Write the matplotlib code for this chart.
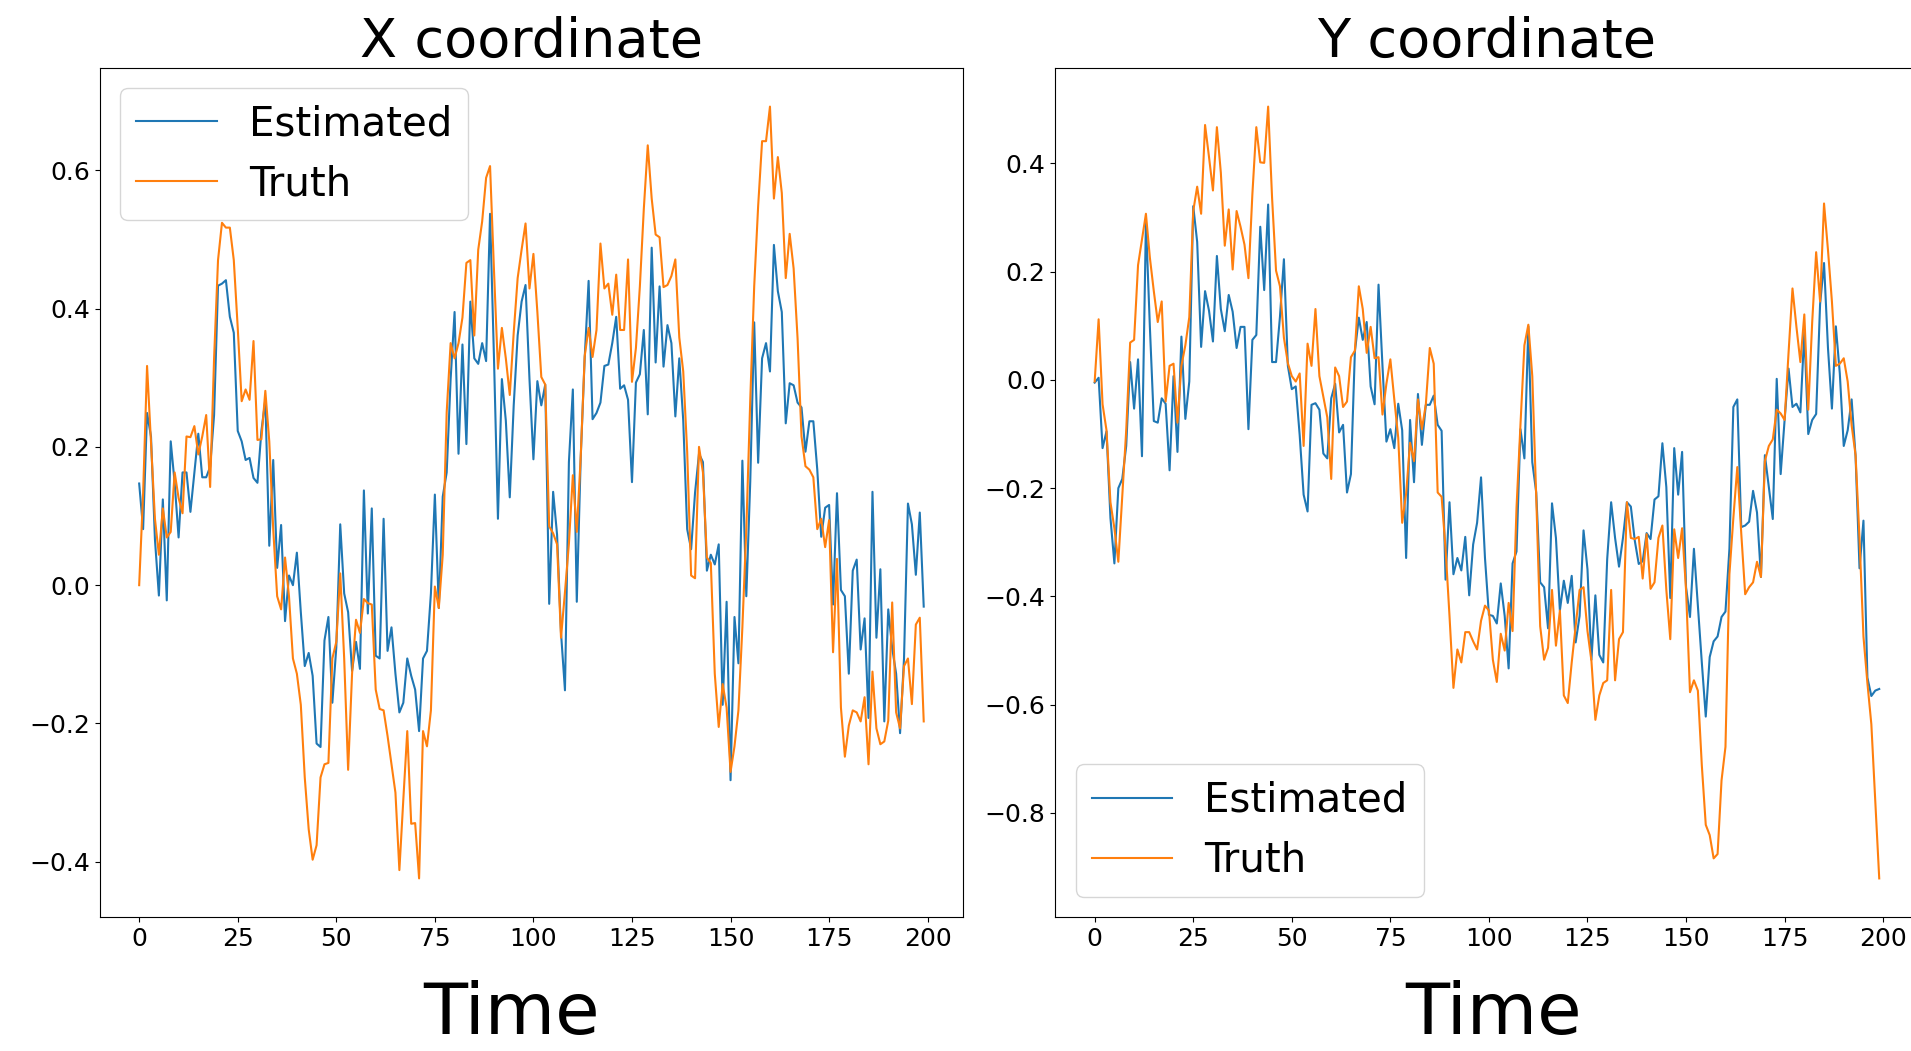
import numpy as np
import matplotlib
matplotlib.use('Agg')
import matplotlib.pyplot as plt

time = np.arange(200)

## X coordinate (left panel)
x_estimated = [
    0.147, 0.081, 0.249, 0.215, 0.066, -0.015, 0.124, -0.022, 0.208, 0.148,
    0.069, 0.163, 0.163, 0.106, 0.163, 0.219, 0.156, 0.156, 0.171, 0.246,
    0.433, 0.436, 0.441, 0.388, 0.365, 0.223, 0.208, 0.181, 0.184, 0.155,
    0.148, 0.223, 0.268, 0.057, 0.181, 0.025, 0.087, -0.052, 0.014, 0.0,
    0.047, -0.039, -0.117, -0.098, -0.131, -0.229, -0.234, -0.08, -0.046, -0.17,
    -0.09, 0.088, -0.012, -0.039, -0.124, -0.082, -0.121, 0.137, -0.041, 0.111,
    -0.102, -0.106, 0.096, -0.095, -0.061, -0.128, -0.184, -0.17, -0.106, -0.131,
    -0.151, -0.211, -0.106, -0.095, -0.012, 0.131, -0.033, 0.128, 0.163, 0.298,
    0.395, 0.19, 0.348, 0.204, 0.41, 0.328, 0.32, 0.35, 0.324, 0.537,
    0.328, 0.096, 0.298, 0.238, 0.127, 0.26, 0.361, 0.41, 0.434, 0.298,
    0.182, 0.295, 0.26, 0.29, -0.027, 0.135, 0.073, -0.069, -0.152, 0.178,
    0.283, -0.024, 0.185, 0.328, 0.44, 0.24, 0.249, 0.264, 0.317, 0.319,
    0.35, 0.388, 0.284, 0.289, 0.268, 0.149, 0.293, 0.305, 0.369, 0.247,
    0.488, 0.322, 0.432, 0.316, 0.376, 0.35, 0.244, 0.328, 0.238, 0.081,
    0.052, 0.134, 0.19, 0.178, 0.021, 0.044, 0.03, 0.059, -0.173, -0.024,
    -0.282, -0.046, -0.113, 0.18, -0.016, 0.15, 0.38, 0.177, 0.328, 0.35,
    0.309, 0.492, 0.425, 0.395, 0.234, 0.292, 0.289, 0.264, 0.257, 0.193,
    0.237, 0.237, 0.167, 0.070, 0.112, 0.116, -0.028, 0.133, -0.007, -0.016,
    -0.128, 0.021, 0.037, -0.093, -0.048, -0.192, 0.135, -0.076, 0.023, -0.197,
    -0.035, -0.091, -0.128, -0.214, -0.106, 0.118, 0.088, 0.015, 0.105, -0.031,
]
x_truth = [
    0.0, 0.133, 0.317, 0.208, 0.096, 0.044, 0.111, 0.069, 0.077, 0.163,
    0.126, 0.104, 0.215, 0.214, 0.230, 0.189, 0.215, 0.246, 0.142, 0.328,
    0.470, 0.524, 0.517, 0.517, 0.470, 0.372, 0.266, 0.283, 0.268, 0.353,
    0.210, 0.211, 0.281, 0.208, 0.081, -0.016, -0.035, 0.040, -0.016, -0.106,
    -0.128, -0.173, -0.278, -0.353, -0.397, -0.376, -0.278, -0.259, -0.257, -0.106,
    -0.082, 0.017, -0.106, -0.267, -0.128, -0.05, -0.069, -0.02, -0.026, -0.028,
    -0.151, -0.179, -0.181, -0.218, -0.259, -0.30, -0.412, -0.31, -0.211, -0.345,
    -0.344, -0.424, -0.211, -0.233, -0.181, -0.002, -0.033, 0.044, 0.25, 0.35,
    0.328, 0.35, 0.387, 0.466, 0.470, 0.361, 0.485, 0.526, 0.589, 0.606,
    0.455, 0.313, 0.372, 0.328, 0.275, 0.365, 0.444, 0.485, 0.523, 0.429,
    0.479, 0.395, 0.301, 0.290, 0.085, 0.075, 0.059, -0.076, -0.01, 0.06,
    0.159, 0.077, 0.186, 0.331, 0.372, 0.33, 0.369, 0.494, 0.429, 0.436,
    0.391, 0.449, 0.369, 0.369, 0.471, 0.294, 0.343, 0.432, 0.544, 0.636,
    0.559, 0.507, 0.503, 0.431, 0.434, 0.447, 0.471, 0.358, 0.309, 0.193,
    0.014, 0.010, 0.2, 0.163, 0.04, 0.032, -0.128, -0.205, -0.143, -0.177,
    -0.27, -0.233, -0.181, -0.061, 0.081, 0.268, 0.432, 0.548, 0.642, 0.642,
    0.692, 0.559, 0.619, 0.567, 0.444, 0.508, 0.458, 0.357, 0.215, 0.172,
    0.167, 0.156, 0.081, 0.096, 0.055, 0.094, -0.097, 0.038, -0.177, -0.248,
    -0.203, -0.181, -0.184, -0.197, -0.162, -0.259, -0.125, -0.207, -0.23, -0.226,
    -0.196, -0.025, -0.184, -0.207, -0.117, -0.106, -0.172, -0.057, -0.047, -0.197,
]

## Y coordinate (right panel)
y_estimated = [
    -0.005, 0.004, -0.126, -0.095, -0.255, -0.339, -0.2, -0.183, -0.122, 0.033,
    -0.053, 0.038, -0.141, 0.293, 0.098, -0.076, -0.079, -0.034, -0.044, -0.167,
    0.007, -0.133, 0.080, -0.072, -0.003, 0.321, 0.255, 0.061, 0.164, 0.128,
    0.071, 0.229, 0.131, 0.09, 0.157, 0.126, 0.059, 0.098, 0.098, -0.091,
    0.074, 0.083, 0.283, 0.166, 0.324, 0.033, 0.033, 0.117, 0.223, 0.026,
    -0.017, -0.012, -0.102, -0.212, -0.243, -0.046, -0.043, -0.055, -0.136, -0.145,
    -0.034, -0.007, -0.097, -0.083, -0.208, -0.174, 0.052, 0.115, 0.074, 0.107,
    -0.012, -0.045, 0.176, 0.026, -0.114, -0.091, -0.126, -0.044, -0.093, -0.329,
    -0.074, -0.189, -0.026, -0.12, -0.046, -0.046, -0.029, -0.083, -0.094, -0.369,
    -0.226, -0.359, -0.329, -0.352, -0.29, -0.398, -0.304, -0.264, -0.18, -0.329,
    -0.434, -0.436, -0.45, -0.376, -0.436, -0.533, -0.339, -0.317, -0.091, -0.145,
    0.099, -0.152, -0.208, -0.374, -0.383, -0.459, -0.228, -0.292, -0.426, -0.371,
    -0.412, -0.362, -0.485, -0.436, -0.278, -0.35, -0.517, -0.398, -0.508, -0.522,
    -0.331, -0.226, -0.292, -0.345, -0.292, -0.226, -0.234, -0.297, -0.34, -0.335,
    -0.283, -0.294, -0.221, -0.215, -0.117, -0.198, -0.403, -0.126, -0.212, -0.133,
    -0.383, -0.438, -0.312, -0.417, -0.522, -0.622, -0.512, -0.483, -0.474, -0.438,
    -0.428, -0.312, -0.05, -0.036, -0.272, -0.269, -0.262, -0.205, -0.245, -0.364,
    -0.139, -0.198, -0.257, 0.002, -0.174, -0.074, 0.021, -0.05, -0.044, -0.06,
    0.088, -0.1, -0.074, -0.063, 0.14, 0.216, 0.059, -0.053, 0.099, 0.012,
    -0.122, -0.093, -0.036, -0.141, -0.348, -0.26, -0.55, -0.584, -0.574, -0.571,
]
y_truth = [
    -0.003, 0.112, -0.045, -0.093, -0.226, -0.274, -0.336, -0.216, -0.093, 0.069,
    0.074, 0.212, 0.259, 0.307, 0.226, 0.164, 0.107, 0.145, -0.04, 0.026,
    0.03, -0.079, 0.026, 0.064, 0.116, 0.312, 0.357, 0.307, 0.471, 0.412,
    0.35, 0.467, 0.383, 0.248, 0.315, 0.204, 0.312, 0.283, 0.25, 0.188,
    0.343, 0.467, 0.402, 0.401, 0.505, 0.336, 0.202, 0.173, 0.078, 0.031,
    0.007, -0.003, 0.012, -0.122, 0.067, 0.026, 0.131, 0.007, -0.031, -0.069,
    -0.183, 0.023, 0.007, -0.05, -0.04, 0.042, 0.054, 0.173, 0.131, 0.05,
    0.098, 0.04, 0.042, -0.064, -0.007, 0.038, -0.036, -0.107, -0.264, -0.21,
    -0.116, -0.15, -0.036, -0.091, -0.045, 0.059, 0.03, -0.208, -0.216, -0.312,
    -0.436, -0.569, -0.498, -0.522, -0.466, -0.466, -0.483, -0.498, -0.445, -0.417,
    -0.426, -0.517, -0.558, -0.469, -0.5, -0.412, -0.464, -0.236, -0.083, 0.064,
    0.102, 0.007, -0.216, -0.455, -0.517, -0.495, -0.388, -0.491, -0.426, -0.583,
    -0.597, -0.522, -0.455, -0.388, -0.383, -0.464, -0.519, -0.628, -0.583, -0.56,
    -0.555, -0.388, -0.555, -0.479, -0.466, -0.226, -0.292, -0.294, -0.29, -0.367,
    -0.285, -0.386, -0.374, -0.292, -0.269, -0.388, -0.479, -0.276, -0.329, -0.274,
    -0.388, -0.577, -0.555, -0.574, -0.712, -0.822, -0.841, -0.884, -0.876, -0.74,
    -0.678, -0.359, -0.255, -0.161, -0.283, -0.396, -0.383, -0.374, -0.336, -0.364,
    -0.15, -0.122, -0.11, -0.055, -0.062, -0.074, 0.05, 0.169, 0.098, 0.033,
    0.121, -0.055, 0.107, 0.236, 0.145, 0.326, 0.24, 0.145, 0.026, 0.03,
    0.04, -0.003, -0.084, -0.139, -0.293, -0.474, -0.56, -0.636, -0.779, -0.921,
]


def plot_coordinate(ax, est, truth, title, legend_loc, label_x):
    ax.plot(time, est, color='#1f77b4', lw=1.5, label='Estimated')
    ax.plot(time, truth, color='#ff7f0e', lw=1.5, label='Truth')
    ax.set_title(title, fontsize=39)
    ax.set_xlabel('Time', fontsize=52)
    ax.xaxis.set_label_coords(label_x, -0.074, transform=ax.transAxes)
    ax.xaxis.label.set_verticalalignment('top')
    ax.set_xticks([0, 25, 50, 75, 100, 125, 150, 175, 200])
    ax.tick_params(labelsize=18)
    ax.legend(loc=legend_loc, fontsize=29)


fig = plt.figure(figsize=(19.11, 10.51), dpi=100)
ax1 = fig.add_axes([0.0523, 0.1275, 0.4516, 0.8078])
ax2 = fig.add_axes([0.5523, 0.1275, 0.4516, 0.8078])

plot_coordinate(ax1, x_estimated, x_truth, 'X coordinate', 'upper left', 0.477)
plot_coordinate(ax2, y_estimated, y_truth, 'Y coordinate', 'lower left', 0.508)

fig.savefig('out.png', dpi=100)
